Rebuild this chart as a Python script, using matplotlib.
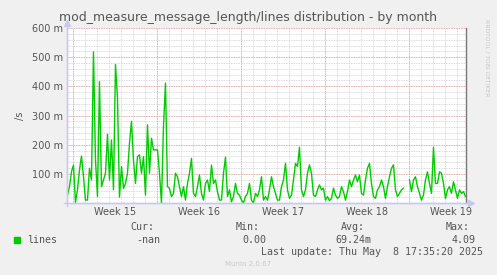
"""
munin style plot: mod_measure_message_length/lines distribution - by month
"""

import numpy as np
import matplotlib
matplotlib.use("Agg")
import matplotlib.pyplot as plt


# data (milli-units per second, one sample every 4 hours)
# --------------------------
lines_milli = [
    27, 56, 107, 130, 2, 45, 113, 161, 90, 10,
    10, 119, 79, 518, 147, 22, 416, 56, 79, 102,
    236, 79, 216, 45, 475, 360, 20, 125, 50, 67,
    102, 205, 280, 147, 67, 159, 165, 102, 159, 27,
    268, 102, 222, 182, 182, 182, 102, 0, 262, 411,
    56, 50, 22, 33, 102, 90, 56, 22, 56, 10,
    67, 102, 153, 33, 22, 56, 96, 33, 10, 67,
    79, 39, 130, 67, 79, 39, 10, 10, 102, 157,
    22, 45, 4, 22, 67, 33, 27, 10, 0, 22,
    33, 67, 10, 0, 33, 22, 45, 90, 10, 22,
    10, 45, 90, 56, 33, 10, 10,
    56, 79, 136, 45, 16, 27, 79, 136, 125, 191,
    45, 22, 45, 102, 131, 102, 27, 22, 45, 62,
    45, 51, 10, 22, 8, 16, 51, 27, 16, 22,
    56, 39, 10, 39, 79, 56, 79, 96, 73, 96,
    33, 27, 79, 119, 136, 67, 22, 16, 45, 56,
    79, 56, 16, 56, 90, 119, 131, 45, 22, 33,
    45, 51, np.nan, np.nan, 79, 39, 79, 90, 56, 33,
    10, 27, 79, 107, 67, 33, 191, 67, 67, 107,
    102, 67, 16, 45, 56, 33, 73, 45, 16, 45,
    33, 39, 22,
]
week_labels = ["Week 15", "Week 16", "Week 17", "Week 18", "Week 19"]
y_ticks = [100, 200, 300, 400, 500, 600]

legend_heads = ["Cur:", "Min:", "Avg:", "Max:"]
legend_values = ["-nan", "0.00", "69.24m", "4.09"]
last_update = "Last update: Thu May  8 17:35:20 2025"

title = "mod_measure_message_length/lines distribution - by month"

# layout helpers (pixels of a 497x275 image)
# --------------------------
W, H = 497, 275
BG = "#F0F0F0"
TXT = "#555555"
AXIS = "#C8C8F0"
MONO = "DejaVu Sans Mono"


def fx(px):
    return px / W


def fy(py):
    return 1 - py / H


fig = plt.figure(figsize=(W / 100, H / 100), dpi=100, facecolor=BG)
ax = fig.add_axes([fx(67), fy(203), (466 - 67) / W, 175 / H])
ax.set_facecolor("white")

days = 0.04 + np.arange(len(lines_milli)) / 6.0
x_max = 33.25

# grid, rrdtool look
for d in np.arange(0.5, x_max, 1.0):
    ax.axvline(d, color="#CFCFCF", lw=0.6, ls=(0, (1, 1)), zorder=0)
for v in range(20, 601, 20):
    ax.axhline(v, color="#CFCFCF", lw=0.6, ls=(0, (1, 1)), zorder=0)
for d in np.arange(0.5, x_max, 7.0):
    ax.axvline(d, color="#E8A0A0", lw=0.6, ls=(0, (1, 1)), zorder=1)
for v in y_ticks:
    ax.axhline(v, color="#E8A0A0", lw=0.6, ls=(0, (1, 1)), zorder=1)

ax.plot(days, lines_milli, color="#00CC00", lw=1.0, zorder=3)

ax.set_xlim(0, x_max)
ax.set_ylim(0, 600)

ax.set_xticks([4 + 7 * k for k in range(len(week_labels))], labels=week_labels)
ax.set_yticks(y_ticks, labels=["%d m" % v for v in y_ticks])
ax.tick_params(length=0, labelsize=7, colors=TXT, pad=3)

ax.spines["top"].set_visible(False)
ax.spines["right"].set_color("#777777")
ax.spines["right"].set_linewidth(1.0)
for side in ["left", "bottom"]:
    ax.spines[side].set_color(AXIS)
    ax.spines[side].set_linewidth(1.0)

# axis lines with arrow heads
fig.add_artist(plt.Line2D([fx(67), fx(67)], [fy(206), fy(25)], color=AXIS, lw=1.0))
fig.add_artist(plt.Line2D([fx(64), fx(469)], [fy(203), fy(203)], color=AXIS, lw=1.0))
fig.add_artist(plt.Line2D([fx(67)], [fy(23)], marker="^", ms=4, color=AXIS, lw=0))
fig.add_artist(plt.Line2D([fx(471)], [fy(203)], marker=">", ms=4, color=AXIS, lw=0))

# texts
fig.text(fx(248), fy(18), title, color=TXT, fontsize=9.0, ha="center", va="center")
fig.text(fx(20), fy(116), "/s", color=TXT, fontsize=7, rotation=90, ha="center", va="center")
fig.text(fx(487), fy(19), "RRDTOOL / TOBI OETIKER", color="#C8C8C8", fontsize=4.3,
         rotation=270, ha="center", va="top")

# legend block
head_x = [154, 260, 365, 470]
for hx, head, val in zip(head_x, legend_heads, legend_values):
    fig.text(fx(hx), fy(227), head, family=MONO, fontsize=7.2, color=TXT, ha="right", va="center")
    fig.text(fx(hx + 6), fy(240), val, family=MONO, fontsize=7.2, color=TXT, ha="right", va="center")

fig.patches.append(plt.Rectangle((fx(14), fy(243)), 6 / W, 6 / H, transform=fig.transFigure,
                                 color="#00CC00"))
fig.text(fx(27), fy(240), "lines", family=MONO, fontsize=7.2, color=TXT, ha="left", va="center")
fig.text(fx(483), fy(252), last_update, family=MONO, fontsize=7.2, color=TXT, ha="right", va="center")
fig.text(fx(248), fy(264), "Munin 2.0.67", color="#C8C8C8", fontsize=5, ha="center", va="center")

fig.savefig("out.png", dpi=100, facecolor=BG)
